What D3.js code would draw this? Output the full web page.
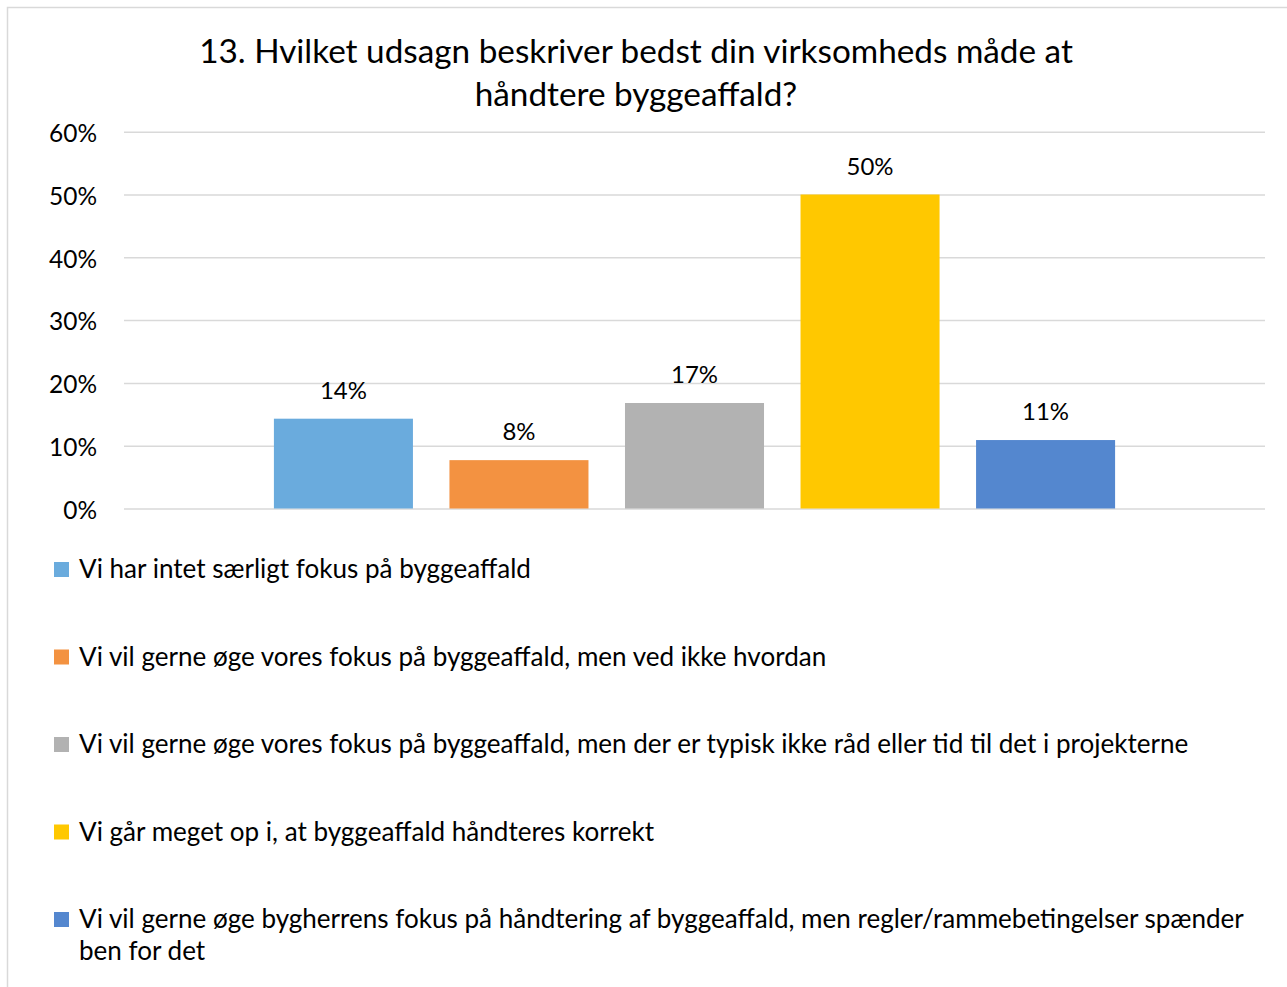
<!DOCTYPE html>
<html>
<head>
<meta charset="utf-8">
<script src="https://cdn.jsdelivr.net/npm/d3@7"></script>
<style>
  body { margin: 0; background: #fff; }
  svg { display: block; }
  text { font-family: Lato, "Open Sans", sans-serif; fill: #000; }
</style>
</head>
<body>
<svg id="chart" width="1287" height="987"></svg>
<script>
// ---- data ----
const titleLines = ["13. Hvilket udsagn beskriver bedst din virksomheds måde at", "håndtere byggeaffald?"];
const categories = [""];
const seriesNames = [
  "Vi har intet særligt fokus på byggeaffald",
  "Vi vil gerne øge vores fokus på byggeaffald, men ved ikke hvordan",
  "Vi vil gerne øge vores fokus på byggeaffald, men der er typisk ikke råd eller tid til det i projekterne",
  "Vi går meget op i, at byggeaffald håndteres korrekt",
  "Vi vil gerne øge bygherrens fokus på håndtering af byggeaffald, men regler/rammebetingelser spænder ben for det"
];
const seriesValues = [0.143, 0.077, 0.168, 0.500, 0.109];
const seriesColors = ["#6AABDD", "#F39241", "#B2B2B2", "#FFC800", "#5487CF"];
const yTicks = [0, 0.1, 0.2, 0.3, 0.4, 0.5, 0.6];

// ---- layout ----
const svg = d3.select("#chart");
const plot = { left: 124, right: 1265, top: 131.7, bottom: 508.5 };

// helper: find font size so that a string reaches a target width
function fitSize(str, target, base) {
  const t = svg.append("text").attr("font-size", base).text(str);
  const w = t.node().getComputedTextLength();
  t.remove();
  return base * target / w;
}
const titleSize = fitSize(titleLines[0], 874, 30);
const legendSize = fitSize(seriesNames[2], 1110, 24);
const tickSize = fitSize("60%", 48, 24);
const labelSize = fitSize("14%", 47, 24);

// border
svg.append("rect")
  .attr("x", 7.5).attr("y", 7.5).attr("width", 1400).attr("height", 1100)
  .attr("fill", "none").attr("stroke", "#d9d9d9").attr("stroke-width", 1.5);

// title
svg.append("g").selectAll("text").data(titleLines).join("text")
  .attr("x", 636).attr("y", (d, i) => 63 + i * 43)
  .attr("text-anchor", "middle")
  .attr("font-size", titleSize)
  .text(d => d);

// scales
const x0 = d3.scaleBand().domain(categories).range([plot.left, plot.right]).paddingOuter(0.15);
const x1 = d3.scaleBand().domain(seriesNames).range([0, x0.bandwidth()]).paddingInner(0.208).paddingOuter(0.104);
const y = d3.scaleLinear().domain([0, 0.6]).range([plot.bottom, plot.top]);

// gridlines + y axis
const yAxis = d3.axisLeft(y).tickValues(yTicks).tickFormat(d3.format(".0%"))
  .tickSize(-(plot.right - plot.left)).tickPadding(27);
const gy = svg.append("g").attr("transform", `translate(${plot.left},0)`).call(yAxis);
gy.select(".domain").remove();
gy.selectAll(".tick line").attr("stroke", "#d9d9d9").attr("stroke-width", 1.5);
gy.selectAll(".tick text").attr("font-size", tickSize).attr("fill", "#000")
  .attr("font-family", "Lato, 'Open Sans', sans-serif").attr("dy", "0.4em");

// bars
const bars = seriesNames.map((s, i) => ({ cat: categories[0], name: s, value: seriesValues[i], color: seriesColors[i] }));
const gb = svg.append("g");
gb.selectAll("rect").data(bars).join("rect")
  .attr("x", d => x0(d.cat) + x1(d.name))
  .attr("y", d => y(d.value))
  .attr("width", x1.bandwidth())
  .attr("height", d => y(0) - y(d.value))
  .attr("fill", d => d.color);

// data labels
gb.selectAll("text").data(bars).join("text")
  .attr("x", d => x0(d.cat) + x1(d.name) + x1.bandwidth() / 2)
  .attr("y", d => y(d.value) - 20)
  .attr("text-anchor", "middle")
  .attr("font-size", labelSize)
  .text(d => d3.format(".0%")(d.value));

// legend
const legendX = 79, legendY0 = 578, legendStep = 87.5, lineH = 32, maxW = 1266 - legendX;
const gl = svg.append("g");
bars.forEach((d, i) => {
  const by = legendY0 + i * legendStep;
  gl.append("rect").attr("x", 54).attr("y", by - 16).attr("width", 15).attr("height", 15).attr("fill", d.color);
  const t = gl.append("text").attr("x", legendX).attr("y", by).attr("font-size", legendSize);
  // word wrap
  const words = d.name.split(" ");
  let line = [], lineNo = 0;
  let ts = t.append("tspan").attr("x", legendX).attr("y", by);
  words.forEach(w => {
    line.push(w);
    ts.text(line.join(" "));
    if (ts.node().getComputedTextLength() > maxW && line.length > 1) {
      line.pop();
      ts.text(line.join(" "));
      line = [w];
      lineNo++;
      ts = t.append("tspan").attr("x", legendX).attr("y", by + lineNo * lineH).text(w);
    }
  });
});
</script>
</body>
</html>
